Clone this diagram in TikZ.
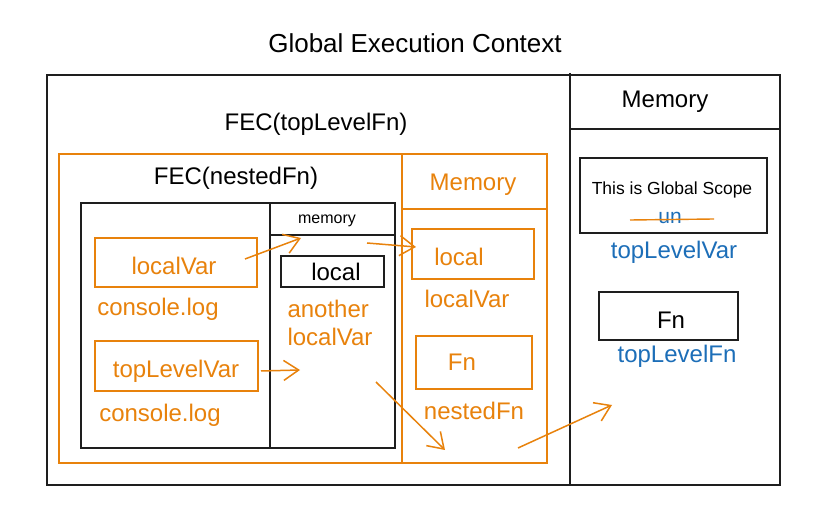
\documentclass[tikz,border=0pt]{standalone}
\usepackage{fontspec}
\setmainfont{Liberation Sans}
\usetikzlibrary{arrows.meta}
\definecolor{exorange}{HTML}{E8820C}
\definecolor{exblue}{HTML}{1C6EB8}
\definecolor{exblack}{HTML}{1E1E1E}
\tikzset{
  lbl/.style={inner sep=0pt, font=\fontsize{24}{28}\selectfont},
  ttl/.style={inner sep=0pt, font=\fontsize{26}{30}\selectfont},
  small/.style={inner sep=0pt, font=\fontsize{17.5}{20}\selectfont},
  olbl/.style={lbl, text=exorange},
  blbl/.style={lbl, text=exblue},
  kbox/.style={draw=exblack, line width=1.4pt, inner sep=0pt},
  obox/.style={draw=exorange, line width=1.4pt, inner sep=0pt},
  kline/.style={draw=exblack, line width=1.4pt},
  oline/.style={draw=exorange, line width=1.4pt},
  oarrow/.style={draw=exorange, line width=1.5pt, -{Straight Barb[length=15pt,width=20pt,line width=1.5pt]}},
}
\begin{document}
\begin{tikzpicture}[x=1pt,y=-1pt]
\useasboundingbox (0,0) rectangle (820,518);
\fill[white] (0,0) rectangle (820,518);

% title
\node[ttl] (title) at (415,43) {Global Execution Context};

% outer global box
\node[kbox, minimum width=733pt, minimum height=410pt] (gec) at (413.5,280) {};
\coordinate (gdivT) at (570,73);
\coordinate (gdivB) at (570,485);
\draw[kline] (gdivT) -- (gdivB);
\coordinate (gmemL) at (570,129);
\coordinate (gmemR) at (780,129);
\draw[kline] (gmemL) -- (gmemR);
\node[lbl] (gmem) at (665,102) {Memory};

% global memory contents
\node[kbox, minimum width=187pt, minimum height=75pt] (gscope) at (673.5,195.5) {};
\node[small] (gscopetxt) at (672,190) {This is Global Scope};
\node[inner sep=0pt, font=\fontsize{21}{24}\selectfont, text=exblue] (un) at (670,218) {un};
\coordinate (strikeL) at (630,220);
\coordinate (strikeR) at (714,219);
\draw[oline] (strikeL) -- (strikeR);
\node[blbl] (tlv) at (674,252) {topLevelVar};
\node[kbox, minimum width=139pt, minimum height=48pt] (gfn) at (668.5,316) {};
\node[lbl] (gfntxt) at (671,320) {Fn};
\node[blbl] (tlf) at (677,356) {topLevelFn};

% FEC(topLevelFn)
\node[lbl] (fectop) at (316,124) {FEC(topLevelFn)};
\node[obox, minimum width=488pt, minimum height=309pt] (fec1) at (303,308.5) {};
\coordinate (odivT) at (402,154);
\coordinate (odivB) at (402,463);
\draw[oline] (odivT) -- (odivB);
\coordinate (omemL) at (402,209);
\coordinate (omemR) at (547,209);
\draw[oline] (omemL) -- (omemR);
\node[olbl] (omem) at (473,185) {Memory};

\node[obox, minimum width=122pt, minimum height=50pt] (olocal) at (473,254) {};
\node[olbl] (olocaltxt) at (459,257) {local};
\node[olbl] (olocalvar) at (467,299) {localVar};
\node[obox, minimum width=116pt, minimum height=53pt] (ofn) at (474,362.5) {};
\node[olbl] (ofntxt) at (462,362) {Fn};
\node[olbl] (onested) at (474,411) {nestedFn};

% FEC(nestedFn)
\node[lbl] (fecnest) at (236,178) {FEC(nestedFn)};
\node[kbox, minimum width=314pt, minimum height=245pt] (fec2) at (238,325.5) {};
\coordinate (kdivT) at (270,203);
\coordinate (kdivB) at (270,448);
\draw[kline] (kdivT) -- (kdivB);
\coordinate (kmemL) at (270,235);
\coordinate (kmemR) at (395,235);
\draw[kline] (kmemL) -- (kmemR);
\node[inner sep=0pt, font=\fontsize{16}{18}\selectfont] (kmem) at (327,221) {memory};
\node[kbox, minimum width=103pt, minimum height=31pt] (klocal) at (332.5,271.5) {};
\node[lbl] (klocaltxt) at (336,272) {local};
\node[olbl, align=left] (another) at (330,323) {another\\localVar};

\node[obox, minimum width=162pt, minimum height=49pt] (lvbox) at (176,262.5) {};
\node[olbl] (lvtxt) at (174,266) {localVar};
\node[olbl] (clog1) at (158,309) {console.log};
\node[obox, minimum width=163pt, minimum height=50pt] (tlvbox) at (176.5,366) {};
\node[olbl] (tlvtxt) at (176,371) {topLevelVar};
\node[olbl] (clog2) at (160,415) {console.log};

% arrows
\coordinate (a1s) at (245,259);
\coordinate (a1e) at (301,238);
\draw[oarrow] (a1s) -- (a1e);
\coordinate (a2s) at (367,243);
\coordinate (a2e) at (416,247);
\draw[oarrow] (a2s) -- (a2e);
\coordinate (a3s) at (261,371);
\coordinate (a3e) at (300,370);
\draw[oarrow] (a3s) -- (a3e);
\coordinate (a4s) at (376,382);
\coordinate (a4e) at (445,450);
\draw[oarrow] (a4s) -- (a4e);
\coordinate (a5s) at (518,448);
\coordinate (a5e) at (612,405);
\draw[oarrow] (a5s) -- (a5e);
\end{tikzpicture}
\end{document}
